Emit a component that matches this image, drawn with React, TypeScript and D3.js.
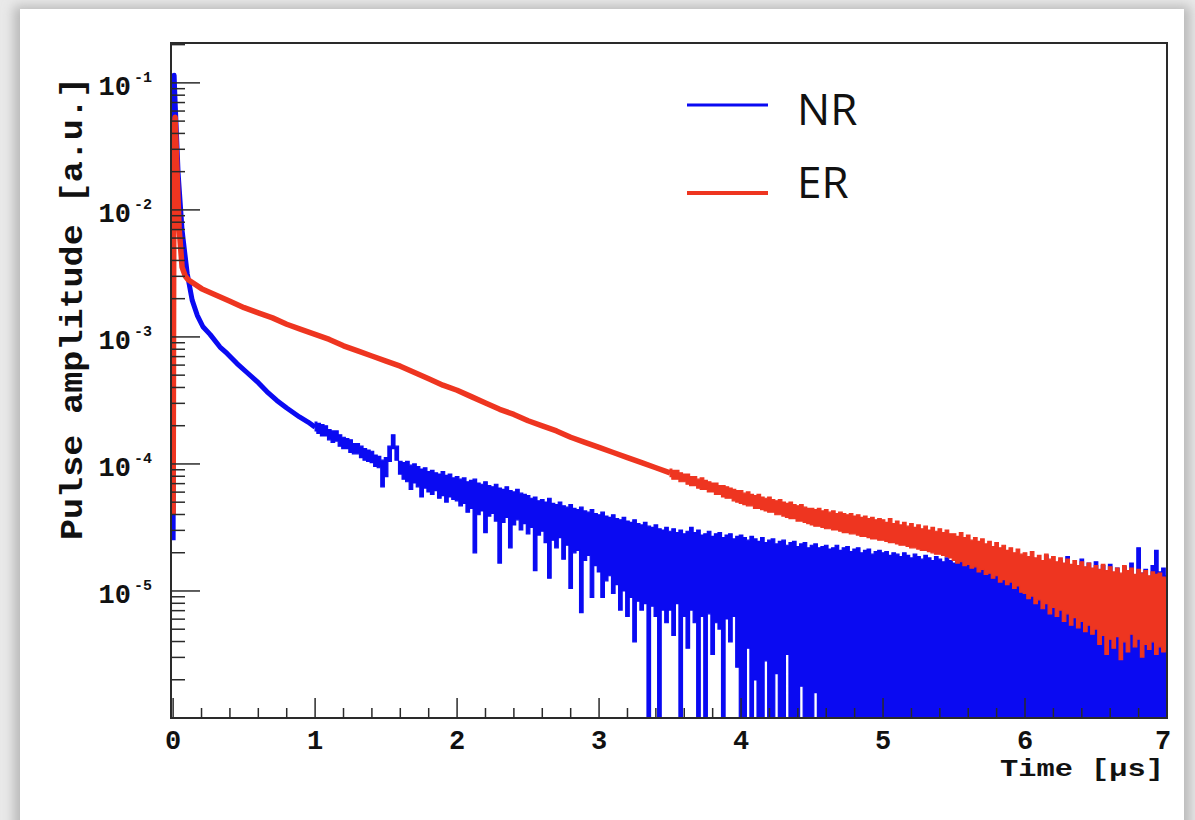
import React from 'react';
import * as d3 from 'd3';

const W = 1195;
const H = 820;

// ---- axis data ----
const X_TICKS = [0, 1, 2, 3, 4, 5, 6, 7];
const X_MINOR_STEP = 0.2;
const Y_DECADES = [-1, -2, -3, -4, -5];
const X_DOMAIN = [-0.015, 7.0];
const Y_DOMAIN = [1e-6, 0.206];

// ---- series (log10 of pulse amplitude) ----
// NR (blue) fast component, explicit (t, log10 v)
const nrEarlyT = [0, 0.004, 0.007, 0.012, 0.035, 0.063, 0.099, 0.134, 0.17, 0.21, 0.26, 0.33, 0.38, 0.45, 0.52, 0.6, 0.66, 0.73, 0.8, 0.89, 0.95, 1.0];
const nrEarlyV = [-4.6, -1.2, -0.94, -1.1, -1.71, -2.16, -2.5, -2.71, -2.83, -2.92, -2.98, -3.08, -3.13, -3.21, -3.28, -3.36, -3.43, -3.5, -3.56, -3.63, -3.67, -3.71];

// NR noisy tail, per-bin max / min (bins of 0.025 us starting at 1.0 us); -9 = no signal (below axis)
const NR_BAND_START = 1.0;
const BAND_STEP = 0.025;
const nrHi = [
  -3.67, -3.68, -3.69, -3.70, -3.73, -3.74, -3.74, -3.77, -3.79, -3.80, -3.81, -3.84, -3.84, -3.86, -3.88, -3.89, -3.90, -3.93, -3.94, -3.97,
  -3.95, -3.86, -3.77, -3.86, -3.98, -3.99, -3.98, -4.01, -4.00, -4.02, -4.04, -4.03, -4.06, -4.05, -4.07, -4.08, -4.06, -4.09, -4.08, -4.11,
  -4.10, -4.12, -4.11, -4.14, -4.13, -4.12, -4.15, -4.16, -4.14, -4.17, -4.18, -4.16, -4.19, -4.20, -4.18, -4.21, -4.22, -4.20, -4.23, -4.24,
  -4.25, -4.27, -4.26, -4.29, -4.28, -4.30, -4.27, -4.31, -4.32, -4.30, -4.33, -4.34, -4.32, -4.35, -4.36, -4.34, -4.37, -4.38, -4.36, -4.39,
  -4.40, -4.38, -4.41, -4.42, -4.40, -4.43, -4.44, -4.42, -4.45, -4.46, -4.44, -4.47, -4.48, -4.46, -4.49, -4.50, -4.48, -4.51, -4.52, -4.50,
  -4.53, -4.51, -4.54, -4.52, -4.55, -4.53, -4.50, -4.54, -4.52, -4.56, -4.55, -4.53, -4.57, -4.55, -4.54, -4.58, -4.56, -4.55, -4.59, -4.57,
  -4.56, -4.58, -4.60, -4.57, -4.59, -4.61, -4.58, -4.62, -4.60, -4.59, -4.63, -4.61, -4.60, -4.64, -4.62, -4.61, -4.65, -4.63, -4.62, -4.66,
  -4.64, -4.63, -4.66, -4.65, -4.64, -4.67, -4.66, -4.64, -4.68, -4.66, -4.65, -4.69, -4.67, -4.66, -4.70, -4.68, -4.67, -4.71, -4.69, -4.68,
  -4.70, -4.69, -4.72, -4.70, -4.71, -4.73, -4.70, -4.72, -4.74, -4.71, -4.73, -4.75, -4.72, -4.74, -4.76, -4.73, -4.75, -4.77, -4.74, -4.76,
  -4.78, -4.75, -4.77, -4.79, -4.76, -4.78, -4.80, -4.77, -4.79, -4.81, -4.78, -4.80, -4.82, -4.79, -4.81, -4.83, -4.80, -4.82, -4.84, -4.81,
  -4.80, -4.83, -4.74, -4.81, -4.78, -4.85, -4.72, -4.82, -4.79, -4.86, -4.76, -4.83, -4.73, -4.84, -4.80, -4.87, -4.75, -4.82, -4.78, -4.85,
  -4.77, -4.84, -4.80, -4.88, -4.79, -4.86, -4.82, -4.90, -4.81, -4.87, -4.78, -4.89, -4.66, -4.86, -4.83, -4.90, -4.80, -4.68, -4.85, -4.82,
  -4.88,
];
const nrLo = [
  -3.74, -3.76, -3.78, -3.78, -3.81, -3.83, -3.82, -3.86, -3.88, -3.88, -3.91, -3.92, -3.92, -3.95, -3.97, -3.98, -3.99, -4.02, -4.03, -4.18,
  -4.10, -3.98, -3.88, -3.97, -4.08, -4.12, -4.14, -4.20, -4.15, -4.18, -4.26, -4.19, -4.22, -4.24, -4.21, -4.27, -4.25, -4.30, -4.26, -4.28,
  -4.29, -4.33, -4.31, -4.38, -4.35, -4.70, -4.40, -4.37, -4.54, -4.41, -4.39, -4.45, -4.78, -4.46, -4.42, -4.66, -4.48, -4.44, -4.52, -4.47,
  -4.55, -4.50, -4.84, -4.56, -4.53, -4.62, -4.90, -4.60, -4.66, -4.58, -4.75, -4.64, -4.98, -4.70, -4.68, -5.17, -4.76, -4.72, -5.05, -4.80,
  -4.85, -5.05, -4.92, -4.88, -5.02, -4.95, -5.15, -5.00, -5.20, -5.05, -5.40, -5.08, -5.15, -5.10, -9, -5.12, -5.20, -9, -5.15, -5.25,
  -5.15, -5.35, -5.10, -9, -5.20, -5.45, -5.15, -5.25, -9, -5.20, -9, -5.18, -5.50, -5.25, -5.30, -9, -5.22, -5.40, -5.20, -5.60,
  -9, -9, -5.45, -9, -5.70, -9, -9, -5.55, -9, -9, -5.65, -9, -9, -5.50, -9, -9, -9, -5.75, -9, -9,
  -9, -5.80, -9, -9, -9, -9, -9, -9, -9, -9, -9, -9, -9, -9, -9, -9, -9, -9, -9, -9,
  -9, -9, -9, -9, -9, -9, -9, -9, -9, -9, -9, -9, -9, -9, -9, -9, -9, -9, -9, -9,
  -9, -9, -9, -9, -9, -9, -9, -9, -9, -9, -9, -9, -9, -9, -9, -9, -9, -9, -9, -9,
  -9, -9, -9, -9, -9, -9, -9, -9, -9, -9, -9, -9, -9, -9, -9, -9, -9, -9, -9, -9,
  -9, -9, -9, -9, -9, -9, -9, -9, -9, -9, -9, -9, -9, -9, -9, -9, -9, -9, -9, -9,
  -9,
];

// ER (red) fast component and smooth part
const erEarlyT = [0, 0.006, 0.014, 0.028, 0.042, 0.063, 0.085, 0.106];
const erEarlyV = [-4.4, -1.4, -1.27, -1.71, -2.14, -2.45, -2.52, -2.55];
const ER_MID_START = 0.2;
const ER_MID_STEP = 0.1;
const erMidV = [
  -2.62, -2.67, -2.72, -2.77, -2.81, -2.85, -2.90, -2.94, -2.98, -3.02,
  -3.07, -3.11, -3.15, -3.19, -3.23, -3.28, -3.33, -3.38, -3.42, -3.47,
  -3.52, -3.57, -3.61, -3.66, -3.70, -3.74, -3.79, -3.83, -3.87, -3.91,
  -3.95, -3.99, -4.03, -4.07,
];
// ER noisy tail, per-bin max / min (bins of 0.025 us starting at 3.5 us)
const ER_BAND_START = 3.5;
const erHi = [
  -4.04, -4.05, -4.05, -4.07, -4.08, -4.08, -4.10, -4.10, -4.12, -4.11, -4.13, -4.14, -4.15, -4.15, -4.17, -4.17, -4.18, -4.19, -4.20, -4.21,
  -4.21, -4.23, -4.22, -4.24, -4.25, -4.24, -4.26, -4.27, -4.26, -4.28, -4.29, -4.28, -4.30, -4.31, -4.30, -4.32, -4.33, -4.32, -4.34, -4.35,
  -4.35, -4.36, -4.35, -4.37, -4.36, -4.38, -4.37, -4.39, -4.38, -4.39, -4.40, -4.39, -4.41, -4.40, -4.42, -4.41, -4.43, -4.42, -4.44, -4.43,
  -4.44, -4.46, -4.43, -4.47, -4.45, -4.48, -4.46, -4.49, -4.47, -4.50, -4.48, -4.51, -4.49, -4.52, -4.50, -4.53, -4.51, -4.54, -4.52, -4.55,
  -4.55, -4.57, -4.54, -4.58, -4.56, -4.60, -4.58, -4.61, -4.59, -4.63, -4.61, -4.65, -4.62, -4.66, -4.64, -4.68, -4.66, -4.70, -4.67, -4.71,
  -4.70, -4.73, -4.69, -4.74, -4.72, -4.76, -4.71, -4.75, -4.73, -4.77, -4.74, -4.78, -4.75, -4.79, -4.76, -4.80, -4.77, -4.81, -4.78, -4.82,
  -4.80, -4.83, -4.79, -4.84, -4.81, -4.85, -4.82, -4.86, -4.80, -4.84, -4.82, -4.87, -4.83, -4.86, -4.84, -4.88, -4.85, -4.87, -4.86, -4.89,
  -4.90,
];
const erLo = [
  -4.10, -4.12, -4.12, -4.14, -4.14, -4.16, -4.17, -4.17, -4.19, -4.20, -4.20, -4.22, -4.22, -4.24, -4.24, -4.26, -4.27, -4.27, -4.29, -4.30,
  -4.31, -4.32, -4.33, -4.33, -4.35, -4.35, -4.36, -4.37, -4.38, -4.38, -4.40, -4.40, -4.41, -4.42, -4.43, -4.43, -4.45, -4.45, -4.46, -4.47,
  -4.48, -4.49, -4.49, -4.50, -4.51, -4.51, -4.52, -4.52, -4.53, -4.54, -4.54, -4.55, -4.55, -4.56, -4.57, -4.57, -4.58, -4.59, -4.59, -4.60,
  -4.60, -4.61, -4.62, -4.62, -4.63, -4.64, -4.64, -4.65, -4.66, -4.66, -4.67, -4.68, -4.68, -4.69, -4.70, -4.71, -4.71, -4.72, -4.73, -4.74,
  -4.76, -4.78, -4.77, -4.80, -4.79, -4.82, -4.81, -4.85, -4.83, -4.87, -4.86, -4.90, -4.88, -4.93, -4.91, -4.95, -4.93, -4.98, -4.96, -5.01,
  -5.02, -5.06, -5.04, -5.10, -5.07, -5.14, -5.10, -5.18, -5.13, -5.20, -5.15, -5.24, -5.18, -5.27, -5.21, -5.29, -5.24, -5.32, -5.27, -5.34,
  -5.30, -5.42, -5.35, -5.50, -5.38, -5.45, -5.36, -5.54, -5.40, -5.48, -5.34, -5.44, -5.38, -5.52, -5.42, -5.46, -5.40, -5.50, -5.44, -5.48,
  -5.46,
];

const LEGEND = [
  { label: 'NR', color: '#0a0af2' },
  { label: 'ER', color: '#ee3520' },
];

const FRAME = { left: 171, top: 43, right: 1167, bottom: 718 };
const MONO = "'Liberation Mono', 'DejaVu Sans Mono', monospace";

export default function App() {
  const x = d3.scaleLinear().domain(X_DOMAIN).range([FRAME.left, FRAME.right]);
  const y = d3.scaleLog().domain(Y_DOMAIN).range([FRAME.bottom, FRAME.top]);
  const yl = (v: number) => Math.min(y(Math.pow(10, v)), FRAME.bottom + 5);

  const line = d3.line<[number, number]>().x((d) => x(d[0])).y((d) => yl(d[1]));

  const nrEarly = nrEarlyT.map((t, i) => [t, nrEarlyV[i]] as [number, number]);
  const erEarly: [number, number][] = erEarlyT.map((t, i) => [t, erEarlyV[i]] as [number, number]);
  const erSmooth = erEarly.concat(erMidV.map((v, i) => [ER_MID_START + i * ER_MID_STEP, v] as [number, number]));

  const bandPath = (start: number, hi: number[], lo: number[]) => {
    const area = d3
      .area<number>()
      .x((_, i) => x(start + i * BAND_STEP))
      .y1((h) => yl(h))
      .y0((_, i) => yl(lo[i]))
      .curve(d3.curveStep);
    return area(hi) || '';
  };

  const minorX = d3.range(0, 7.0001, X_MINOR_STEP).filter((t) => Math.abs(t - Math.round(t)) > 1e-6);
  const minorY: number[] = [];
  for (let e = -6; e <= -1; e++) {
    for (let k = 2; k <= 9; k++) {
      const v = k * Math.pow(10, e);
      if (v >= Y_DOMAIN[0] && v <= Y_DOMAIN[1]) minorY.push(v);
    }
  }

  return (
    <svg width={W} height={H} style={{ position: 'absolute', left: 0, top: 0 }}>
      <defs>
        <clipPath id="plotClip">
          <rect x={FRAME.left} y={FRAME.top} width={FRAME.right - FRAME.left} height={FRAME.bottom - FRAME.top} />
        </clipPath>
        <filter id="shadow" x="-5%" y="-5%" width="110%" height="110%">
          <feGaussianBlur stdDeviation="6" />
        </filter>
      </defs>
      <rect x={0} y={0} width={W} height={H} fill="#e9e9e9" />
      <rect x={14} y={6} width={1176} height={830} fill="#b8b8b8" filter="url(#shadow)" />
      <rect x={20} y={9} width={1164} height={830} fill="#ffffff" />

      {/* data */}
      <g clipPath="url(#plotClip)">
        <path d={line(nrEarly) || ''} fill="none" stroke={LEGEND[0].color} strokeWidth={5} strokeLinejoin="round" />
        <path d={bandPath(NR_BAND_START, nrHi, nrLo)} fill={LEGEND[0].color} stroke={LEGEND[0].color} strokeWidth={1.2} strokeLinejoin="miter" />
        <path d={line(erSmooth) || ''} fill="none" stroke={LEGEND[1].color} strokeWidth={5.5} strokeLinejoin="round" />
        <path d={bandPath(ER_BAND_START, erHi, erLo)} fill={LEGEND[1].color} stroke={LEGEND[1].color} strokeWidth={1.2} strokeLinejoin="miter" />
      </g>

      {/* frame */}
      <rect x={FRAME.left} y={FRAME.top} width={FRAME.right - FRAME.left} height={FRAME.bottom - FRAME.top} fill="none" stroke="#2a2a2a" strokeWidth={2} />

      {/* y ticks */}
      {Y_DECADES.map((e) => (
        <line key={'ym' + e} x1={FRAME.left} x2={FRAME.left + 29} y1={yl(e)} y2={yl(e)} stroke="#2a2a2a" strokeWidth={1.5} />
      ))}
      {minorY.map((v, i) => (
        <line key={'yn' + i} x1={FRAME.left} x2={FRAME.left + 14} y1={y(v)} y2={y(v)} stroke="#2a2a2a" strokeWidth={1.5} />
      ))}
      {Y_DECADES.map((e) => (
        <g key={'yl' + e} fontFamily={MONO} fontWeight="bold" fill="#111">
          <text x={131} y={yl(e) + 12} fontSize={27} textAnchor="end">10</text>
          <text x={134} y={yl(e) - 1} fontSize={15}>{'-' + Math.abs(e)}</text>
        </g>
      ))}

      {/* x ticks */}
      {X_TICKS.map((t) => (
        <line key={'xm' + t} x1={x(t)} x2={x(t)} y1={FRAME.bottom} y2={FRAME.bottom - 20} stroke="#2a2a2a" strokeWidth={1.5} />
      ))}
      {minorX.map((t, i) => (
        <line key={'xn' + i} x1={x(t)} x2={x(t)} y1={FRAME.bottom} y2={FRAME.bottom - 10} stroke="#2a2a2a" strokeWidth={1.5} />
      ))}
      {X_TICKS.map((t) => (
        <text key={'xl' + t} x={Math.min(x(t), 1163)} y={749} fontFamily={MONO} fontWeight="bold" fontSize={27} textAnchor="middle" fill="#111">
          {String(t)}
        </text>
      ))}

      {/* axis titles */}
      <text x={1000} y={776} fontFamily={MONO} fontWeight="bold" fontSize={23} textLength={164} lengthAdjust="spacingAndGlyphs" fill="#111">
        Time [µs]
      </text>
      <text
        transform="translate(82,540) rotate(-90)"
        x={0}
        y={0}
        fontFamily={MONO}
        fontWeight="bold"
        fontSize={31}
        textLength={463}
        lengthAdjust="spacingAndGlyphs"
        fill="#111"
      >
        Pulse amplitude [a.u.]
      </text>

      {/* legend */}
      {LEGEND.map((d, i) => (
        <g key={d.label}>
          <line x1={687} x2={768} y1={105 + i * 88} y2={105 + i * 88} stroke={d.color} strokeWidth={i === 0 ? 3 : 4} />
          <text x={797} y={125 + i * 73} fontFamily="'Open Sans', 'Liberation Sans', sans-serif" fontSize={44} fill="#111">
            {d.label}
          </text>
        </g>
      ))}
    </svg>
  );
}
